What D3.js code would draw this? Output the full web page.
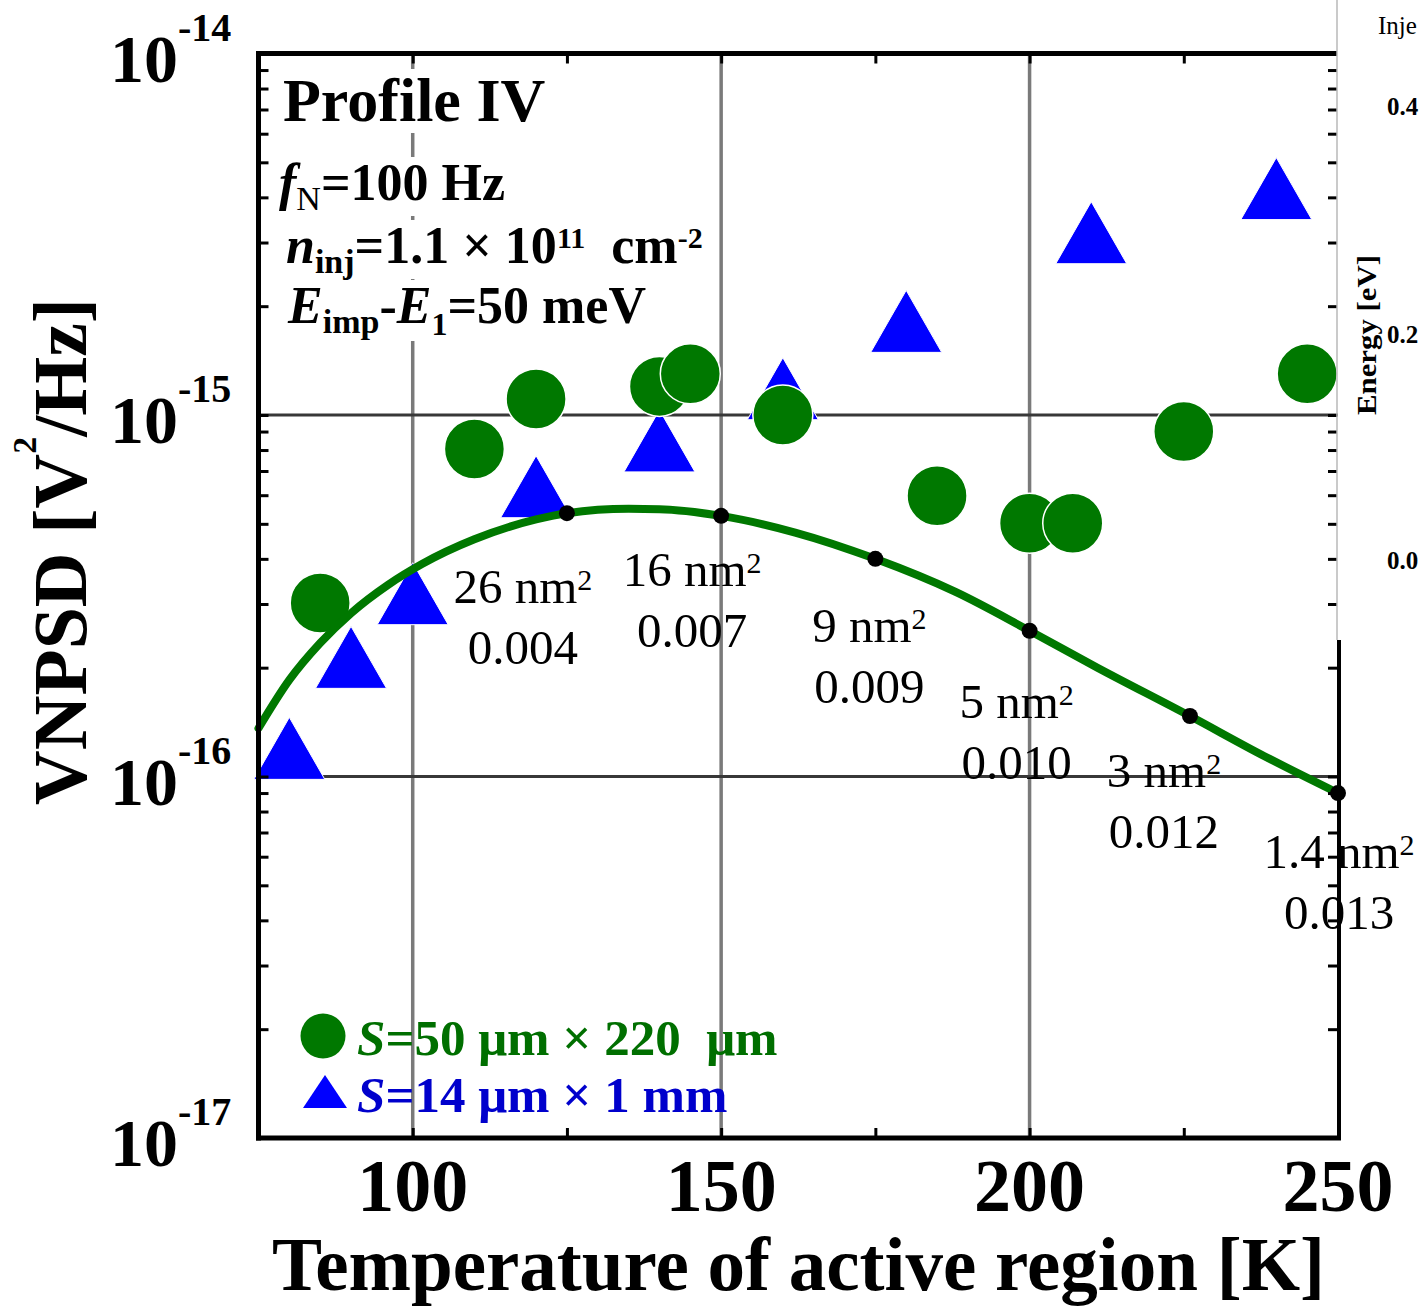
<!DOCTYPE html>
<meta charset="utf-8">
<style>
body{margin:0;background:#fff;}
text{font-family:"Liberation Serif","Times New Roman",serif;white-space:pre;}
</style>
<body>
<div id="container"></div>
<script src="https://d3js.org/d3.v7.min.js"></script>
<script>

var width = 1420,
    height = 1308;

// values
var tempCircle = [85, 110, 120, 140, 145, 160, 185, 200, 207, 225, 245];
var vnpsdCircle = [3.02e-16, 8.05e-16, 1.107e-15, 1.20e-15, 1.30e-15, 1.0e-15, 5.98e-16, 5.02e-16, 5.02e-16, 9.0e-16, 1.30e-15];

var tempTri = [80, 90, 100, 120, 140, 160, 180, 210, 240];
var vnpsdTri = [1.12e-16, 2.0e-16, 3.0e-16, 5.93e-16, 7.94e-16, 1.107e-15, 1.70e-15, 2.99e-15, 3.96e-15];

var tempCurve = [75, 80, 85, 90, 96, 101.5, 110, 120, 125, 135, 140, 150, 162, 175, 188, 200, 211, 226, 238, 250];
var vnpsdCurve = [1.36e-16, 1.85e-16, 2.34e-16, 2.83e-16, 3.39e-16, 3.87e-16, 4.53e-16, 5.14e-16, 5.35e-16, 5.50e-16, 5.49e-16, 5.26e-16, 4.73e-16, 4.0e-16, 3.24e-16, 2.53e-16, 2.0e-16, 1.47e-16, 1.14e-16, 9.0e-17];

var tempDot = [125, 150, 175, 200, 226, 250];
var vnpsdDot = [5.35e-16, 5.26e-16, 4.0e-16, 2.53e-16, 1.47e-16, 9.0e-17];
var dotArea = ["26", "16", "9", "5", "3", "1.4"];
var dotRatio = ["0.004", "0.007", "0.009", "0.010", "0.012", "0.013"];
// where each label pair sits relative to its dot (px)
var dotLabelDx = [-44, -29, -6, -13, -26, 1];
var dotLabelDy = [90, 70, 83, 87, 71, 75];

var xTickLabels = [100, 150, 200, 250];
var xMinorTicks = [100, 125, 150, 175, 200, 225];
var xGrid = [100, 150, 200];
var yDecades = [1e-17, 1e-16, 1e-15, 1e-14];
var yGrid = [1e-16, 1e-15];

var green = "#007800", blue = "#0000ff";

var svg = d3.select("#container").append("svg")
    .attr("width", width)
    .attr("height", height);

var x = d3.scaleLinear().domain([75, 250]).range([258.5, 1338]);
var y = d3.scaleLog().domain([1e-17, 1e-14]).range([1138, 53.5]);

// text with sub/superscripts
function rich(g, x0, y0, segs, opts) {
  var t = g.append("text").attr("x", x0).attr("y", y0)
      .attr("fill", opts.fill || "#000")
      .attr("text-anchor", opts.anchor || "start");
  var cur = 0;
  segs.forEach(function(s) {
    var off = s.off || 0;
    t.append("tspan").text(s.t)
        .attr("dy", off - cur)
        .style("font-size", (s.size || opts.size) + "px")
        .style("font-weight", s.w || opts.w || "bold")
        .style("font-style", s.i ? "italic" : "normal");
    cur = off;
  });
  return t;
}

// grid
svg.selectAll(".vgrid").data(xGrid).enter().append("line")
    .attr("x1", d => x(d)).attr("x2", d => x(d))
    .attr("y1", y(1e-14)).attr("y2", y(1e-17))
    .style("stroke", "#7a7a7a").style("stroke-width", 3.5);
svg.selectAll(".hgrid").data(yGrid).enter().append("line")
    .attr("x1", x(75)).attr("x2", x(250))
    .attr("y1", d => y(d)).attr("y2", d => y(d))
    .style("stroke", "#383838").style("stroke-width", 3);

// info block
var info = svg.append("g");
var infoLines = [
  rich(info, 283, 121, [{t: "Profile IV"}], {size: 62}),
  rich(info, 279, 200, [{t: "f", i: true}, {t: "N", size: 34, w: "normal", off: 10}, {t: "=100 Hz"}], {size: 52}),
  rich(info, 286, 263, [{t: "n", i: true}, {t: "inj", size: 34, off: 10}, {t: "=1.1 × 10"},
      {t: "11", size: 30, off: -15}, {t: "  cm"}, {t: "-2", size: 30, off: -15}], {size: 52}),
  rich(info, 288, 323, [{t: "E", i: true}, {t: "imp", size: 34, off: 10}, {t: "-"}, {t: "E", i: true},
      {t: "1", size: 32, off: 12}, {t: "=50 meV"}], {size: 52})
];
infoLines.forEach(function(t) {
  var b = t.node().getBBox();
  info.insert("rect", "text")
      .attr("x", b.x - 3).attr("y", b.y + 3)
      .attr("width", b.width + 6).attr("height", b.height - 4)
      .style("fill", "#fff");
});

// triangles
function triPath(cx, cy, w, h) {
  return "M" + cx + "," + (cy - 2 * h / 3) +
         "L" + (cx + w / 2) + "," + (cy + h / 3) +
         "L" + (cx - w / 2) + "," + (cy + h / 3) + "Z";
}
svg.selectAll(".tri").data(tempTri).enter().append("path")
    .attr("d", (d, i) => triPath(x(d), y(vnpsdTri[i]), 71, 62))
    .style("fill", blue).style("stroke", "#fff").style("stroke-width", 1);

// circles
svg.selectAll(".dot").data(tempCircle).enter().append("circle")
    .attr("cx", d => x(d))
    .attr("cy", (d, i) => y(vnpsdCircle[i]))
    .attr("r", 30)
    .style("fill", green).style("stroke", "#fff").style("stroke-width", 1.5);

// model curve
var line = d3.line()
    .x(d => x(d))
    .y((d, i) => y(vnpsdCurve[i]))
    .curve(d3.curveMonotoneX);
svg.append("path")
    .attr("d", line(tempCurve))
    .style("fill", "none").style("stroke", green)
    .style("stroke-width", 8).style("stroke-linecap", "round");

svg.selectAll(".cdot").data(tempDot).enter().append("circle")
    .attr("cx", d => x(d))
    .attr("cy", (d, i) => y(vnpsdDot[i]))
    .attr("r", 8)
    .style("fill", "#000");

// dot labels
var lab = svg.append("g");
tempDot.forEach(function(d, i) {
  var cx = x(d) + dotLabelDx[i], cy = y(vnpsdDot[i]) + dotLabelDy[i];
  rich(lab, cx, cy, [{t: dotArea[i] + " nm"}, {t: "2", size: 30, off: -13}], {size: 49, w: "normal", anchor: "middle"});
  rich(lab, cx, cy + 61, [{t: dotRatio[i]}], {size: 49, w: "normal", anchor: "middle"});
});

// ticks
var yTicks = y.ticks().filter(d => d > 1.01e-17 && d < 0.99e-14);
function styleAxis(g) {
  g.select(".domain").remove();
  g.selectAll(".tick line").style("stroke", "#000").style("stroke-width", 3);
  g.selectAll(".tick text").remove();
}
svg.append("g").attr("transform", "translate(" + x(75) + ",0)")
    .call(d3.axisLeft(y).tickValues(yTicks).tickSize(-10).tickFormat(""))
    .call(styleAxis);
svg.append("g").attr("transform", "translate(1337,0)")
    .call(d3.axisRight(y).tickValues(yTicks).tickSize(-9).tickFormat(""))
    .call(styleAxis);
svg.append("g").attr("transform", "translate(0," + y(1e-14) + ")")
    .call(d3.axisTop(x).tickValues(xMinorTicks).tickSize(-10).tickFormat(""))
    .call(styleAxis);
svg.append("g").attr("transform", "translate(0," + y(1e-17) + ")")
    .call(d3.axisBottom(x).tickValues(xMinorTicks).tickSize(-10).tickFormat(""))
    .call(styleAxis);

// frame
svg.append("line").attr("x1", x(75)).attr("x2", x(75)).attr("y1", 51).attr("y2", 1140.5)
    .style("stroke", "#000").style("stroke-width", 5);
svg.append("line").attr("x1", 256).attr("x2", 1337).attr("y1", y(1e-14)).attr("y2", y(1e-14))
    .style("stroke", "#000").style("stroke-width", 5);
svg.append("line").attr("x1", 256).attr("x2", 1341).attr("y1", y(1e-17)).attr("y2", y(1e-17))
    .style("stroke", "#000").style("stroke-width", 5);
svg.append("line").attr("x1", 1339).attr("x2", 1339).attr("y1", 640).attr("y2", 1140)
    .style("stroke", "#000").style("stroke-width", 4);

// y tick labels
yDecades.forEach(function(d) {
  var e = Math.round(Math.log10(d));
  rich(svg, 110, y(d) + 28, [{t: "10"}, {t: "-" + (-e), size: 40, off: -41}], {size: 68});
});

// x tick labels
svg.selectAll(".xl").data(xTickLabels).enter().append("text")
    .attr("x", d => x(d)).attr("y", 1211)
    .attr("text-anchor", "middle")
    .style("font-size", "74px").style("font-weight", "bold")
    .text(d => d);

// axis titles
svg.append("text")
    .attr("x", 798.5).attr("y", 1290)
    .attr("text-anchor", "middle")
    .attr("textLength", 1053).attr("lengthAdjust", "spacingAndGlyphs")
    .style("font-size", "77px").style("font-weight", "bold")
    .text("Temperature of active region [K]");

var yt = svg.append("g").attr("transform", "translate(86,551.5) rotate(-90)");
rich(yt, 0, 0, [{t: "VNPSD [V"}, {t: "2", size: 34, off: -50}, {t: "/Hz]"}], {size: 76, anchor: "middle"})
    .attr("textLength", 507).attr("lengthAdjust", "spacingAndGlyphs");

// legend
var leg = svg.append("g");
leg.append("circle").attr("cx", 323).attr("cy", 1036).attr("r", 22.5).style("fill", green);
leg.append("path").attr("d", triPath(325, 1097, 44, 33)).style("fill", blue);
rich(leg, 357, 1055, [{t: "S", i: true}, {t: "=50 μm × 220  μm"}], {size: 51, fill: "#006f00"});
rich(leg, 357, 1112, [{t: "S", i: true}, {t: "=14 μm × 1 mm"}], {size: 51, fill: "#0000cc"});

// edge of the neighbouring panel (only its left strip is in view)
var side = svg.append("g");
side.append("rect").attr("x", 1338).attr("y", 0).attr("width", 82).attr("height", 640).style("fill", "#fff");
side.append("line").attr("x1", 1337).attr("x2", 1337).attr("y1", 0).attr("y2", 640)
    .style("stroke", "#b8b8b8").style("stroke-width", 1.5);
side.append("text").attr("x", 1378).attr("y", 34).style("font-size", "25px").text("Inje");
["0.4", "0.2", "0.0"].forEach(function(s, i) {
  side.append("text").attr("x", 1387).attr("y", [115, 343, 569][i])
      .style("font-size", "25px").style("font-weight", "bold").text(s);
});
side.append("text")
    .attr("transform", "translate(1376,335) rotate(-90)")
    .attr("text-anchor", "middle")
    .attr("textLength", 160).attr("lengthAdjust", "spacingAndGlyphs")
    .style("font-size", "27px").style("font-weight", "bold")
    .text("Energy [eV]");

</script>
</body>
</html>
